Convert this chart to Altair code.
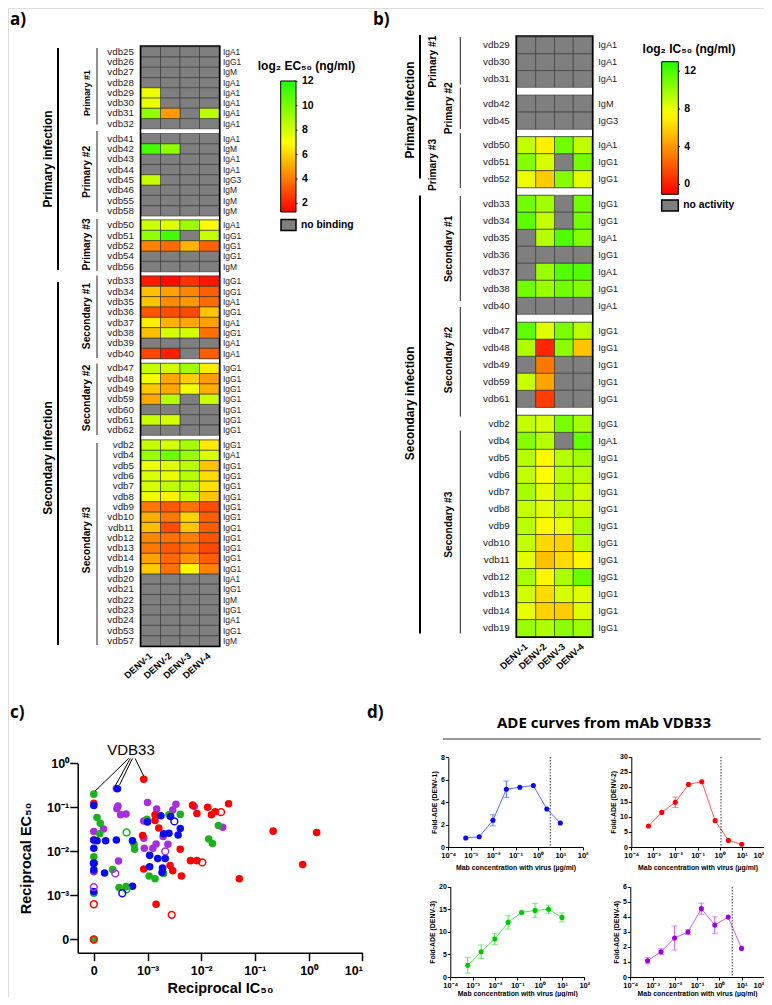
import altair as alt
import pandas as pd

FONT = "Liberation Sans"
W, H = 756, 989
N = None

def X(p): return p - 8
def Y(p): return p - 8

viruses = ["DENV-1", "DENV-2", "DENV-3", "DENV-4"]

# ---------- panel a ----------
a_rows = [
    ["vdb25","vdb26","vdb27","vdb28","vdb29","vdb30","vdb31","vdb32"],
    ["vdb41","vdb42","vdb43","vdb44","vdb45","vdb46","vdb55","vdb58"],
    ["vdb50","vdb51","vdb52","vdb54","vdb56"],
    ["vdb33","vdb34","vdb35","vdb36","vdb37","vdb38","vdb39","vdb40"],
    ["vdb47","vdb48","vdb49","vdb59","vdb60","vdb61","vdb62"],
    ["vdb2","vdb4","vdb5","vdb6","vdb7","vdb8","vdb9","vdb10","vdb11","vdb12","vdb13","vdb14","vdb19",
     "vdb20","vdb21","vdb22","vdb23","vdb24","vdb53","vdb57"],
]
a_iso = [
    ["IgA1","IgG1","IgM","IgA1","IgA1","IgA1","IgA1","IgA1"],
    ["IgA1","IgM","IgA1","IgA1","IgG3","IgM","IgM","IgM"],
    ["IgA1","IgG1","IgG1","IgG1","IgM"],
    ["IgG1","IgG1","IgA1","IgG1","IgA1","IgG1","IgA1","IgA1"],
    ["IgG1","IgG1","IgG1","IgG1","IgG1","IgG1","IgG1"],
    ["IgG1","IgA1","IgG1","IgG1","IgG1","IgG1","IgG1","IgG1","IgG1","IgG1","IgG1","IgG1","IgG1",
     "IgA1","IgG1","IgM","IgG1","IgA1","IgG1","IgM"],
]
a_vals = [
    [[N,N,N,N],[N,N,N,N],[N,N,N,N],[N,N,N,N],[7.4,N,N,N],[7.5,N,N,N],[9.5,4.8,N,8.5],[N,N,N,N]],
    [[N,N,N,N],[11.2,9.5,N,N],[N,N,N,N],[N,N,N,N],[8.3,N,N,N],[N,N,N,N],[N,N,N,N],[N,N,N,N]],
    [[8.2,7.7,9.2,6.9],[9.5,11.3,N,8.3],[4.2,3.7,5.3,3.5],[N,N,N,N],[N,N,N,N]],
    [[1.9,1.5,2.4,1.8],[5.6,4.9,4.3,3.4],[5.7,4.4,4.7,3.7],[3.2,3.0,2.9,5.7],[6.6,5.3,5.0,4.9],
     [5.6,8.0,8.0,3.8],[N,N,N,N],[2.8,2.0,N,3.4]],
    [[8.3,8.0,9.1,6.6],[7.2,5.0,5.9,4.8],[5.8,5.0,7.3,5.2],[5.0,8.7,N,8.2],[N,N,N,N],[8.2,7.9,N,N],[N,N,N,N]],
    [[8.3,8.0,9.0,6.5],[9.3,10.3,9.3,7.8],[7.4,7.7,8.6,5.7],[7.9,7.5,8.7,6.2],[8.0,8.5,8.6,6.3],
     [7.4,6.7,8.3,5.7],[4.0,3.3,3.9,3.0],[5.2,4.0,6.0,3.4],[5.5,3.0,5.7,3.4],[4.3,3.8,4.1,3.2],
     [4.0,3.3,3.9,2.9],[4.9,3.6,4.6,3.4],[5.8,3.8,6.8,4.2],
     [N,N,N,N],[N,N,N,N],[N,N,N,N],[N,N,N,N],[N,N,N,N],[N,N,N,N],[N,N,N,N]],
]
a_bands = [(46.8,128.8),(133.5,216),(220,271.8),(276,358.7),(363.3,435.3),(440,646)]

# ---------- panel b ----------
b_rows = [
    ["vdb29","vdb30","vdb31"],
    ["vdb42","vdb45"],
    ["vdb50","vdb51","vdb52"],
    ["vdb33","vdb34","vdb35","vdb36","vdb37","vdb38","vdb40"],
    ["vdb47","vdb48","vdb49","vdb59","vdb61"],
    ["vdb2","vdb4","vdb5","vdb6","vdb7","vdb8","vdb9","vdb10","vdb11","vdb12","vdb13","vdb14","vdb19"],
]
b_iso = [
    ["IgA1","IgA1","IgA1"],
    ["IgM","IgG3"],
    ["IgA1","IgG1","IgG1"],
    ["IgG1","IgG1","IgA1","IgG1","IgA1","IgG1","IgA1"],
    ["IgG1","IgG1","IgG1","IgG1","IgG1"],
    ["IgG1","IgA1","IgG1","IgG1","IgG1","IgG1","IgG1","IgG1","IgG1","IgG1","IgG1","IgG1","IgG1"],
]
b_vals = [
    [[N,N,N,N],[N,N,N,N],[N,N,N,N]],
    [[N,N,N,N],[N,N,N,N]],
    [[9,7,11,9],[10.5,8.5,N,11],[8,5.8,10.5,8.2]],
    [[11,9.8,N,11],[11.5,9,N,11],[N,9.3,11.8,10.5],[N,N,N,N],[N,10,11.8,11.8],[11,10,11,10.5],[N,N,N,N]],
    [[11.5,8.3,10.8,9.2],[9.5,0.2,10.3,5.5],[N,3,N,N],[8.8,4.5,N,N],[N,1,N,N]],
    [[9,8.5,10.8,9.7],[10.5,9.3,N,11.3],[9.3,7.3,9.3,9.8],[9,7.5,9.3,9.2],[9.7,8.2,9.6,8.7],
     [9,8.2,9,8.7],[9.2,7.3,8.1,9.6],[9,6.2,5.9,9.2],[8.2,5.4,6.3,7.2],[9.7,7.2,9.6,11.2],
     [8.6,6.3,8.5,8.3],[8.1,6,5.8,8.3],[10,9.5,10.3,9.9]],
]
b_bands = [(37,87.3),(95,129.3),(136.7,187.7),(195.3,314.3),(322.3,407.3),(415.3,636.7)]

# ---------- panel c (log10 of reciprocal IC50 / EC50; -4 is the axis position labelled 0) ----------
red_x = [-3.07,-4,-4,-3.09,-2.16,-2.08,-1.88,-1.74,-1.81,-1.49,-2.86,-2.86,-2.79,-2.39,-2.20,-2.08,-3.07,-2.58,-2.53,-2.37,-2.84,-1.29,-0.66,0.15,-0.11]
red_y = [-0.36,-0.91,-1.74,-1.64,-0.95,-1.14,-1.0,-1.10,-1.17,-0.92,-1.17,-1.30,-1.47,-1.95,-2.21,-2.21,-2.40,-2.32,-2.44,-2.56,-3.20,-2.62,-1.54,-1.57,-2.30]
red_open_x = [-1.63,-1.98,-4,-2.55,-4]
red_open_y = [-1.11,-2.25,-3.20,-3.44,-4]
pur_x = [-3.58,-3.0,-3.55,-3.57,-3.50,-3.40,-2.47,-2.83,-2.53,-2.58,-3.07,-4,-3.82,-1.60,-2.13,-2.71,-2.62,-2.84,-2.90,-3.06,-3.07,-3.54,-4]
pur_y = [-0.57,-0.89,-0.97,-1.03,-1.17,-1.15,-0.93,-1.04,-1.06,-1.17,-1.31,-1.55,-1.49,-1.45,-0.98,-1.66,-1.84,-1.83,-1.93,-1.93,-1.70,-2.22,-2.46]
pur_open_x = [-3.60,-4,-2.67]
pur_open_y = [-2.50,-2.81,-2.0]
grn_x = [-4,-3.94,-3.88,-3.89,-4,-3.65,-3.25,-3.24,-3.01,-2.60,-2.39,-1.68,-1.86,-1.79,-2.97,-2.86,-2.70,-3.53,-3.40,-4,-4]
grn_y = [-0.70,-1.23,-1.36,-1.60,-2.12,-2.41,-1.84,-1.95,-1.27,-1.17,-1.16,-1.41,-1.72,-1.82,-2.56,-2.62,-2.50,-2.82,-2.80,-2.95,-4]
grn_open_x = [-3.39,-3.39]
grn_open_y = [-1.57,-2.86]
blu_x = [-3.56,-4,-4,-3.94,-3.78,-3.58,-3.28,-4,-3.0,-2.75,-2.57,-2.39,-2.43,-2.60,-2.70,-2.96,-2.81,-2.67,-2.96,-2.72,-2.73,-3.80,-4,-4,-3.28,-4]
blu_y = [-0.58,-0.96,-1.74,-1.76,-1.76,-1.74,-1.76,-1.93,-1.33,-1.19,-1.21,-1.48,-1.63,-1.59,-1.60,-2.09,-2.16,-2.16,-2.35,-2.38,-2.48,-2.49,-2.27,-2.42,-2.79,-2.91]
blu_open_x = [-2.50,-3.47,-4]
blu_open_y = [-1.32,-2.95,-2.27]
vdb33_from_x = [-3.35,-3.32,-3.28,-3.23]
vdb33_from_y = [0.11,0.11,0.11,0.11]
vdb33_to_x = [-3.975,-3.60,-3.52,-3.07]
vdb33_to_y = [-0.63,-0.51,-0.49,-0.29]
c_colors = ["#a52fdc","#ff0000","#1fb01f","#0a0aee"]
c_names = ["DENV-4","DENV-2","DENV-3","DENV-1"]

# ---------- panel d ----------
conc = [0.0006,0.0024,0.0098,0.039,0.156,0.625,2.5,10]
d1_y = [0.8,0.92,2.38,5.15,5.33,5.48,3.39,2.14]
d1_e = [0,0,0.5,0.73,0,0,0,0]
d2_y = [7,11.5,14.85,20.8,21.7,8.75,2.2,0.9]
d2_e = [0,0,1.75,0,0,0,0,0]
d3_y = [2.6,5.6,8.4,12.1,14.3,14.75,15,13.2]
d3_e = [1.75,1.5,1.2,1.5,0.3,1.55,0.9,1.0]
d4_y = [1.08,1.68,2.59,2.99,4.54,3.45,3.98,1.9]
d4_e = [0.2,0.2,0.8,0.16,0.37,0.55,0,0]

one = pd.DataFrame({"t": ["x"]})
layers = []

def txt(s, x, y, size, bold=True, angle=0, align="center", font=FONT):
    d = pd.DataFrame({"t": [s]})
    return alt.Chart(d).mark_text(align=align, baseline="middle", angle=angle, fontSize=size,
                                  fontWeight="bold" if bold else "normal", font=font, color="black").encode(
        text="t:N", x=alt.value(X(x)), y=alt.value(Y(y)))

def rule(x1, y1, x2, y2, w=1, color="#222222"):
    return alt.Chart(one).mark_rule(color=color, strokeWidth=w).encode(
        x=alt.value(X(x1)), x2=alt.value(X(x2)), y=alt.value(Y(y1)), y2=alt.value(Y(y2)))

def box(x1, y1, x2, y2, fill, fo=1, sw=1.5):
    return alt.Chart(one).mark_rect(fill=fill, fillOpacity=fo, stroke="black", strokeWidth=sw).encode(
        x=alt.value(X(x1)), x2=alt.value(X(x2)), y=alt.value(Y(y1)), y2=alt.value(Y(y2)))

def heat(rows_all, iso_all, vals_all, bands, x0, x1, lab_x, iso_x, iso_size, dom, rng, legend):
    out = []
    last = len(rows_all) - 1
    used_legend = False
    for g, (rows, isos, vals, band) in enumerate(zip(rows_all, iso_all, vals_all, bands)):
        recs = [{"mab": r, "virus": v, "val": c}
                for r, rv in zip(rows, vals) for v, c in zip(viruses, rv)]
        df = pd.DataFrame(recs)
        df["val"] = df["val"].astype(float)
        yscale = alt.Scale(type="band", domain=rows, range=[Y(band[0]), Y(band[1])], padding=0)
        xscale = alt.Scale(type="band", domain=viruses, range=[X(x0), X(x1)], padding=0)
        xaxis = None
        if g == last:
            xaxis = alt.Axis(orient="bottom", offset=Y(band[1]) - H, title=None, domain=False, ticks=False,
                             labelAngle=318, labelAlign="right", labelBaseline="middle", labelFontSize=9.3,
                             labelFontWeight="bold", labelPadding=8)
        # every cell first in grey, then the measured cells in colour over it
        out.append(alt.Chart(df).mark_rect(fill="#7f7f7f", stroke="#333333", strokeWidth=0.6).encode(
            x=alt.X("virus:N", scale=xscale, axis=xaxis, sort=viruses),
            y=alt.Y("mab:N", scale=yscale, sort=rows,
                    axis=alt.Axis(orient="left", offset=-X(lab_x), title=None, domain=False, ticks=False,
                                  labelPadding=0, labelFontSize=9.8, labelColor="#222222"))))
        measured = df.dropna(subset=["val"])
        if len(measured):
            out.append(alt.Chart(measured).mark_rect(stroke="#333333", strokeWidth=0.6).encode(
                x=alt.X("virus:N", scale=xscale, axis=None, sort=viruses),
                y=alt.Y("mab:N", scale=yscale, sort=rows, axis=None),
                color=alt.Color("val:Q", scale=alt.Scale(domain=dom, range=rng, clamp=True, interpolate="rgb"),
                                legend=None if used_legend else legend)))
            used_legend = True
        dfi = pd.DataFrame({"mab": rows, "iso": isos})
        out.append(alt.Chart(dfi).mark_text(align="left", baseline="middle", fontSize=iso_size, font=FONT,
                                            color="#222222").encode(
            x=alt.value(X(iso_x)),
            y=alt.Y("mab:N", scale=yscale, sort=rows, axis=None),
            text="iso:N"))
    return out

def ticks_on_ramp(values, dom, y0, y1, x0, x1):
    d = pd.DataFrame({"v": values})
    return alt.Chart(d).mark_rule(color="black", strokeWidth=1).encode(
        x=alt.value(X(x0)), x2=alt.value(X(x1)),
        y=alt.Y("v:Q", scale=alt.Scale(domain=[dom[0], dom[-1]], range=[Y(y0), Y(y1)]), axis=None))

RAMP = ["#ff0000", "#ffff00", "#20ff00"]

# panel a
a_dom = [1.3, 7, 12.02]
a_leg = alt.Legend(orient="none", legendX=X(280.7), legendY=Y(81), title=None, type="gradient", direction="vertical",
                   gradientLength=131, gradientThickness=15.3, gradientStrokeColor="black", gradientStrokeWidth=1,
                   values=[2,4,6,8,10,12], labelFont=FONT, labelFontSize=10.5, labelFontWeight="bold",
                   labelColor="black", labelOffset=6)
layers += heat(a_rows, a_iso, a_vals, a_bands, 141, 219, 133.5, 223, 8.4, a_dom, RAMP, a_leg)
layers.append(box(140.5, 46, 219.8, 646.5, "white", 0, 1.6))
layers.append(ticks_on_ramp([2,4,6,8,10,12], a_dom, 212, 81, 294, 297.5))
layers += [
    txt("a)", 10, 20, 17, font="Open Sans", align="left"),
    txt("log₂ EC₅₀ (ng/ml)", 306.5, 66, 12),
    box(281, 219.5, 296, 230.5, "#7f7f7f"),
    txt("no binding", 301, 225, 10.3, align="left"),
    rule(97, 48, 97, 124.5), rule(97, 131, 97, 212), rule(97, 219, 97, 271),
    rule(97, 275.5, 97, 358), rule(97, 363.5, 97, 435), rule(97, 443, 97, 645),
    txt("Primary #1", 87, 93, 9, angle=270),
    txt("Primary #2", 87, 172, 10.2, angle=270),
    txt("Primary #3", 87, 244.5, 10.2, angle=270),
    txt("Secondary #1", 87, 316, 10.2, angle=270),
    txt("Secondary #2", 87, 398, 10.2, angle=270),
    txt("Secondary #3", 87, 540, 10.2, angle=270),
    rule(58, 48, 58, 270, 2, "black"), rule(58, 282, 58, 645, 2, "black"),
    txt("Primary infection", 48, 159, 11.9, angle=270),
    txt("Secondary infection", 48, 458, 11.9, angle=270),
]

# panel b
b_dom = [-1.04, 7.5, 13]
b_leg = alt.Legend(orient="none", legendX=X(661.7), legendY=Y(61.7), title=None, type="gradient", direction="vertical",
                   gradientLength=132.6, gradientThickness=16.6, gradientStrokeColor="black", gradientStrokeWidth=1,
                   values=[0,4,8,12], labelFont=FONT, labelFontSize=10.5, labelFontWeight="bold",
                   labelColor="black", labelOffset=6)
layers += heat(b_rows, b_iso, b_vals, b_bands, 517, 592, 509.3, 598.3, 9.2, b_dom, RAMP, b_leg)
layers.append(box(516.2, 36, 592.8, 637.2, "white", 0, 1.6))
layers.append(ticks_on_ramp([0,4,8,12], b_dom, 194.3, 61.7, 676.5, 680))
layers += [
    txt("b)", 373, 20, 17, font="Open Sans", align="left"),
    txt("log₂ IC₅₀ (ng/ml)", 689, 49, 12),
    box(661.7, 200, 678.3, 211, "#7f7f7f"),
    txt("no activity", 683.3, 205, 10.3, align="left"),
    rule(460.3, 37, 460.3, 84.5), rule(460.3, 87.5, 460.3, 129), rule(460.3, 133, 460.3, 188),
    rule(460.3, 196, 460.3, 301), rule(460.3, 307, 460.3, 416.5), rule(460.3, 430.5, 460.3, 633.5),
    txt("Primary #1", 433.3, 61.7, 10.2, angle=270),
    txt("Primary #2", 449.3, 108.3, 10.2, angle=270),
    txt("Primary #3", 433.3, 165, 10.2, angle=270),
    txt("Secondary #1", 449.3, 248.8, 10.2, angle=270),
    txt("Secondary #2", 449.3, 360, 10.2, angle=270),
    txt("Secondary #3", 449.3, 524.7, 10.2, angle=270),
    rule(420, 35, 420, 178.5, 2, "black"), rule(420, 195.5, 420, 633.5, 2, "black"),
    txt("Primary infection", 410, 110, 11.9, angle=270),
    txt("Secondary infection", 410, 403.3, 11.9, angle=270),
]

# panel c
LABEL = ("datum.value<0.0002?'0':datum.value<0.002?'10⁻³':datum.value<0.02?'10⁻²':"
         "datum.value<0.2?'10⁻¹':datum.value<2?'10⁰':'10¹'")
cx_scale = alt.Scale(type="log", domain=[10**-4.3, 10], range=[X(77.7), X(362.3)], nice=False)
cy_scale = alt.Scale(type="log", domain=[10**-4.3, 1], range=[Y(952.7), Y(763.3)], nice=False)
c_col = alt.Scale(domain=c_names, range=c_colors)

def cframe(groups):
    rec = []
    for name, xs, ys in groups:
        rec += [{"ic": 10**a, "ec": 10**b, "virus": name} for a, b in zip(xs, ys)]
    return pd.DataFrame(rec)

filled = cframe([("DENV-4", pur_x, pur_y), ("DENV-2", red_x, red_y), ("DENV-3", grn_x, grn_y), ("DENV-1", blu_x, blu_y)])
opened = cframe([("DENV-4", pur_open_x, pur_open_y), ("DENV-2", red_open_x, red_open_y),
                 ("DENV-3", grn_open_x, grn_open_y), ("DENV-1", blu_open_x, blu_open_y)])
lead = pd.DataFrame({"x1": [10**v for v in vdb33_from_x], "y1": [10**v for v in vdb33_from_y],
                     "x2": [10**v for v in vdb33_to_x], "y2": [10**v for v in vdb33_to_y]})

c_xaxis = alt.Axis(orient="bottom", offset=Y(952.7) - H, values=[1e-4,1e-3,1e-2,1e-1,1,10], labelExpr=LABEL,
                   title="Reciprocal IC₅₀", titleFontSize=14.5, titleFontWeight="bold", titlePadding=4,
                   labelFontSize=12.5, labelFontWeight="bold", labelPadding=4, tickSize=8, tickWidth=1.5,
                   tickColor="black", domainColor="black", domainWidth=1.5)
c_yaxis = alt.Axis(orient="left", offset=-X(77.7), values=[1e-4,1e-3,1e-2,1e-1,1], labelExpr=LABEL,
                   title="Reciprocal EC₅₀", titleFontSize=14.5, titleFontWeight="bold", titlePadding=13,
                   labelFontSize=12.5, labelFontWeight="bold", labelPadding=1, tickSize=8, tickWidth=1.5,
                   tickColor="black", domainColor="black", domainWidth=1.5)
layers.append(alt.Chart(filled).mark_circle(size=57, opacity=1).encode(
    x=alt.X("ic:Q", scale=cx_scale, axis=c_xaxis),
    y=alt.Y("ec:Q", scale=cy_scale, axis=c_yaxis),
    color=alt.Color("virus:N", scale=c_col, legend=None)))
layers.append(alt.Chart(opened).mark_point(size=46, filled=False, strokeWidth=1.5, opacity=1).encode(
    x=alt.X("ic:Q", scale=cx_scale, axis=None),
    y=alt.Y("ec:Q", scale=cy_scale, axis=None),
    color=alt.Color("virus:N", scale=c_col, legend=None)))
layers.append(alt.Chart(lead).mark_rule(color="black", strokeWidth=1).encode(
    x=alt.X("x1:Q", scale=cx_scale, axis=None), x2="x2:Q",
    y=alt.Y("y1:Q", scale=cy_scale, axis=None), y2="y2:Q"))
layers += [txt("c)", 10, 713, 17, font="Open Sans", align="left"),
           txt("VDB33", 131, 750, 15, bold=False)]

# panel d
def ade(ys, es, x0, x1, y0, y1, ymax, yvals, vline, vtop, marker, light, ytitle, tpad, end_right=False):
    df = pd.DataFrame({"c": conc, "y": ys, "lo": [a - b for a, b in zip(ys, es)], "hi": [a + b for a, b in zip(ys, es)]})
    err = df[[e > 0 for e in es]]
    xs = alt.Scale(type="log", domain=[1e-4, 100], range=[X(x0), X(x1)], nice=False)
    ysc = alt.Scale(domain=[0, ymax], range=[Y(y0), Y(y1)], nice=False)
    align = {"condition": {"test": "datum.value>50", "value": "right"}, "value": "center"} if end_right else "center"
    xax = alt.Axis(orient="bottom", offset=Y(y0) - H, values=[1e-4,1e-3,1e-2,1e-1,1,10,100],
                   labelExpr=("datum.value<0.0002?'10⁻⁴':datum.value<0.002?'10⁻³':datum.value<0.02?'10⁻²':"
                              "datum.value<0.2?'10⁻¹':datum.value<2?'10⁰':datum.value<20?'10¹':'10²'"),
                   title="Mab concentration with virus (µg/ml)", titleFontSize=6.9, titleFontWeight="bold",
                   titlePadding=tpad, labelFontSize=7.5, labelFontWeight="bold", labelPadding=1.5, tickSize=3,
                   labelAlign=align, tickColor="black", domainColor="black", tickWidth=1, domainWidth=1)
    yax = alt.Axis(orient="left", offset=-X(x0), values=yvals, title=ytitle, titleFontSize=6.9, titleFontWeight="bold",
                   titlePadding=3, labelFontSize=7, labelFontWeight="bold", labelPadding=1, tickSize=3,
                   tickColor="black", domainColor="black", tickWidth=1, domainWidth=1)
    out = []
    out.append(alt.Chart(df).mark_line(color=light, strokeWidth=1).encode(
        x=alt.X("c:Q", scale=xs, axis=xax), y=alt.Y("y:Q", scale=ysc, axis=yax)))
    if len(err):
        out.append(alt.Chart(err).mark_rule(color=light, strokeWidth=1).encode(
            x=alt.X("c:Q", scale=xs, axis=None), y=alt.Y("lo:Q", scale=ysc, axis=None), y2="hi:Q"))
        for f in ["lo", "hi"]:
            out.append(alt.Chart(err).mark_tick(color=light, thickness=1, size=6, orient="horizontal").encode(
                x=alt.X("c:Q", scale=xs, axis=None), y=alt.Y(f + ":Q", scale=ysc, axis=None)))
    out.append(alt.Chart(df).mark_circle(color=marker, size=26, opacity=1).encode(
        x=alt.X("c:Q", scale=xs, axis=None), y=alt.Y("y:Q", scale=ysc, axis=None)))
    if vline is not None:
        out.append(alt.Chart(pd.DataFrame({"c": [vline]})).mark_rule(color="black", strokeWidth=0.8, strokeDash=[1.5, 1.5]).encode(
            x=alt.X("c:Q", scale=xs, axis=None), y=alt.value(Y(vtop)), y2=alt.value(Y(y0))))
    return out

layers += ade(d1_y, d1_e, 448.3, 582.7, 847, 757.3, 8, [0,2,4,6,8], 3.55, 757, "#0a0aee", "#5570ff", "Fold-ADE (DENV-1)", 5)
layers += ade(d2_y, d2_e, 631.3, 763.8, 847, 756.7, 30, [0,5,10,15,20,25,30], 1.15, 757, "#ff0000", "#ff5a5a", "Fold-ADE (DENV-2)", 5, True)
layers += ade(d3_y, d3_e, 450.3, 584.3, 977, 886.7, 20, [0,5,10,15,20], None, 0, "#00c800", "#55e055", "Fold-ADE (DENV-3)", 1)
layers += ade(d4_y, d4_e, 630.3, 763.8, 977, 886.7, 6, [0,1,2,3,4,5,6], 3.8, 887, "#a000e0", "#c860f0", "Fold-ADE (DENV-4)", 1, True)
layers += [
    txt("d)", 367, 713, 17, font="Open Sans", align="left"),
    txt("ADE curves from mAb VDB33", 604, 722.7, 15, font="Open Sans"),
    rule(443, 739, 760.7, 739, 1, "#333333"),
]

chart = (alt.layer(*layers)
         .resolve_scale(x="independent", y="independent", color="independent")
         .properties(width=W, height=H, padding=0, autosize=alt.AutoSizeParams(type="none"))
         .configure_view(stroke=None)
         .configure_axis(grid=False, labelFont=FONT, titleFont=FONT, labelOverlap=False, labelFlush=False,
                         labelColor="black", titleColor="black")
         .configure(font=FONT))
chart.save("out.html", embed_options={"renderer": "svg", "actions": False})
